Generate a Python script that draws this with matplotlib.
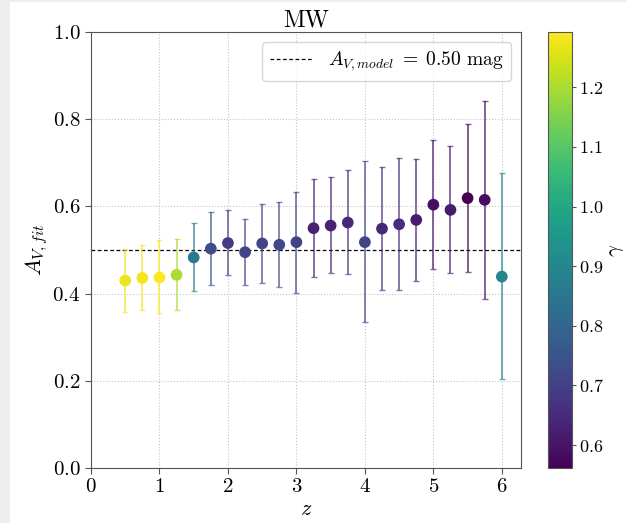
import matplotlib
matplotlib.use("Agg")
import matplotlib.pyplot as plt
import numpy as np
from matplotlib.patches import Rectangle
from matplotlib.colors import Normalize

plt.rcParams['font.family'] = 'serif'
plt.rcParams['font.serif'] = ['cmr10', 'DejaVu Serif']
plt.rcParams['mathtext.fontset'] = 'cm'
plt.rcParams['axes.formatter.use_mathtext'] = True

z = [0.5, 0.75, 1.0, 1.25, 1.5, 1.75, 2.0, 2.25, 2.5, 2.75, 3.0, 3.25,
     3.5, 3.75, 4.0, 4.25, 4.5, 4.75, 5.0, 5.25, 5.5, 5.75, 6.0]
av_fit = [0.430, 0.436, 0.437, 0.443, 0.483, 0.503, 0.516, 0.495, 0.515, 0.512,
          0.518, 0.550, 0.556, 0.563, 0.518, 0.549, 0.559, 0.569, 0.604, 0.592,
          0.619, 0.615, 0.439]
av_lo = [0.357, 0.362, 0.355, 0.362, 0.405, 0.419, 0.443, 0.419, 0.425, 0.416,
         0.401, 0.439, 0.447, 0.444, 0.336, 0.409, 0.408, 0.429, 0.457, 0.447,
         0.450, 0.388, 0.205]
av_hi = [0.502, 0.511, 0.524, 0.526, 0.563, 0.588, 0.592, 0.570, 0.606, 0.611,
         0.633, 0.663, 0.667, 0.683, 0.703, 0.690, 0.711, 0.709, 0.752, 0.739,
         0.788, 0.842, 0.676]
gamma = [1.27, 1.28, 1.2928, 1.20, 0.86, 0.73, 0.69, 0.71, 0.71, 0.72,
         0.71, 0.63, 0.63, 0.645, 0.71, 0.645, 0.655, 0.62, 0.59, 0.615,
         0.5616, 0.585, 0.90]
av_model = 0.50

fig = plt.figure(figsize=(6.27, 5.23), dpi=100)
fig.patch.set_facecolor('#eeeeee')
fig.patches.append(Rectangle((10/627, 0), 1, 1 - 2/523, transform=fig.transFigure,
                             facecolor='white', edgecolor='none', zorder=-10))

ax = fig.add_axes([91/627, 55/523, 430/627, 436/523])
cax = fig.add_axes([548/627, 55/523, 24/627, 436/523])

cmap = plt.get_cmap('viridis')
norm = Normalize(vmin=min(gamma), vmax=max(gamma))

zz = np.array(z)
yy = np.array(av_fit)
lo = yy - np.array(av_lo)
hi = np.array(av_hi) - yy
for i in range(len(z)):
    ax.errorbar(zz[i], yy[i], yerr=[[lo[i]], [hi[i]]], fmt='none',
                ecolor=cmap(norm(gamma[i])), alpha=0.65, capsize=2.5, elinewidth=1.4,
                capthick=1.0, zorder=2)
sc = ax.scatter(zz, yy, c=gamma, cmap=cmap, norm=norm, s=55, zorder=3)
ax.axhline(av_model, color='black', ls='--', lw=0.9, dashes=(3, 2),
           label=r'$A_{V,model}\;=\;0.50$ mag', zorder=1)

ax.set_xlim(0, 6.28)
ax.set_ylim(0, 1.0)
ax.set_xticks([0, 1, 2, 3, 4, 5, 6])
ax.set_yticks([0.0, 0.2, 0.4, 0.6, 0.8, 1.0])
ax.grid(True, ls=':', color='#c4c4c4', lw=0.8)
ax.set_axisbelow(True)
for s in ax.spines.values():
    s.set_color('#555555')
ax.tick_params(labelsize=15, color='#555555', length=4)
ax.set_xlabel(r'$z$', fontsize=16, labelpad=2)
ax.set_ylabel(r'$A_{V,fit}$', fontsize=16, labelpad=2)
ax.set_title('MW', fontsize=17, pad=4)
leg = ax.legend(loc='upper right', fontsize=14, handlelength=2.2, fancybox=True,
                framealpha=0.8, edgecolor='#cccccc')

cb = fig.colorbar(sc, cax=cax)
cb.set_ticks([0.6, 0.7, 0.8, 0.9, 1.0, 1.1, 1.2])
cb.ax.tick_params(labelsize=13, color='#555555', length=3, pad=2)
cb.outline.set_edgecolor('#555555')
cb.set_label(r'$\gamma$', fontsize=15, labelpad=3)

fig.savefig('out.png', dpi=100)
